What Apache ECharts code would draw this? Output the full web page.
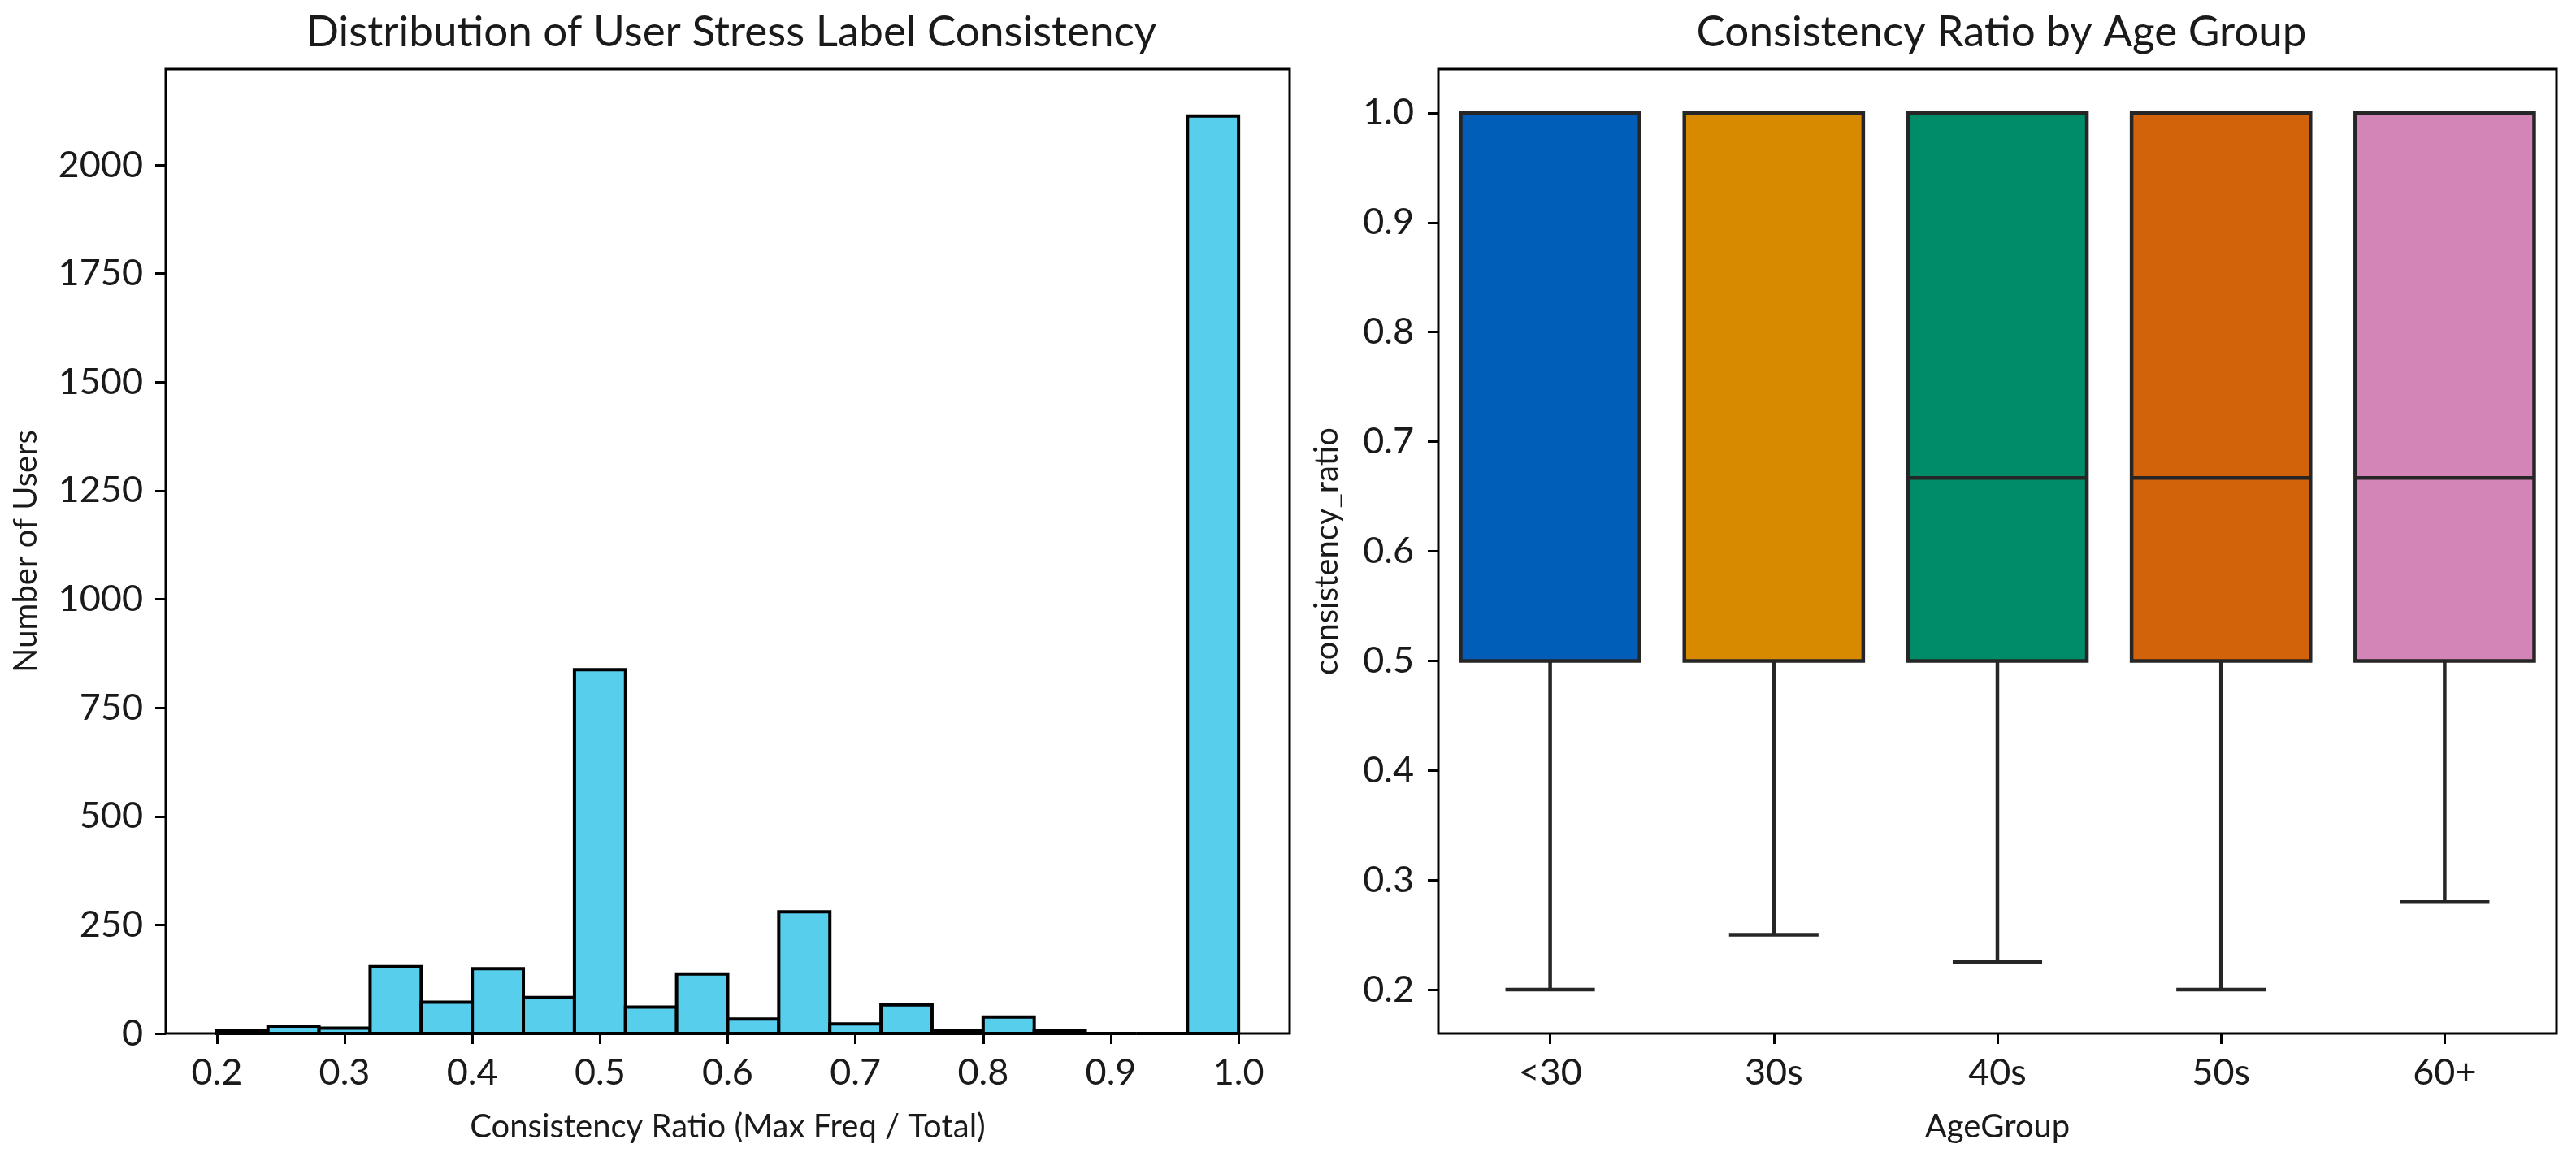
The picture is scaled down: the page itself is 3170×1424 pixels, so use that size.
<!DOCTYPE html>
<html>
<head>
<meta charset="utf-8">
<script src="https://cdn.jsdelivr.net/npm/echarts@6/dist/echarts.min.js"></script>
<style>
  html, body { margin: 0; padding: 0; background: #ffffff; }
  #chart { width: 3170px; height: 1424px; }
</style>
</head>
<body>
<div id="chart"></div>
<script>
// ---------- Data ----------
// Histogram: bin edges and user counts per bin
const binEdges = [0.20, 0.24, 0.28, 0.32, 0.36, 0.40, 0.44, 0.48, 0.52, 0.56, 0.60,
                  0.64, 0.68, 0.72, 0.76, 0.80, 0.84, 0.88, 0.92, 0.96, 1.00];
const userCounts = [7, 17, 12, 154, 72, 149, 83, 838, 61, 137, 33, 280, 22, 66, 6, 38, 6, 0, 0, 2113];
const histXTicks = [0.2, 0.3, 0.4, 0.5, 0.6, 0.7, 0.8, 0.9, 1.0];
const histYTicks = [0, 250, 500, 750, 1000, 1250, 1500, 1750, 2000];

// Box plot: consistency ratio by age group
const ageGroups   = ['<30', '30s', '40s', '50s', '60+'];
const whiskerLow  = [0.20, 0.25, 0.225, 0.20, 0.28];
const q1Values    = [0.50, 0.50, 0.50, 0.50, 0.50];
const medians     = [1.00, 1.00, 0.667, 0.667, 0.667];
const q3Values    = [1.00, 1.00, 1.00, 1.00, 1.00];
const whiskerHigh = [1.00, 1.00, 1.00, 1.00, 1.00];
const boxYTicks   = [0.2, 0.3, 0.4, 0.5, 0.6, 0.7, 0.8, 0.9, 1.0];

// ---------- Styles ----------
const FONT = 'Lato';
const TEXT = '#1a1a1a';
const histFill = '#57ceec';
const boxColors = ['#005eb8', '#d78a00', '#008c68', '#d3630b', '#d485b7'];
const TICK_FS = 45, NAME_FS = 40, TITLE_FS = 53;
const EDGE = '#262626';

const histData = userCounts.map((c, i) => [binEdges[i], binEdges[i + 1], c]);
const boxData = ageGroups.map((g, i) => [i, whiskerLow[i], q1Values[i], medians[i], q3Values[i], whiskerHigh[i]]);

const chart = echarts.init(document.getElementById('chart'), null, { renderer: 'canvas' });

const tickStyle = { color: '#000', width: 3 };
const axisCommon = {
  axisLine: { show: false },
  splitLine: { show: false }
};

const option = {
  backgroundColor: '#ffffff',
  animation: false,
  title: [
    { text: 'Distribution of User Stress Label Consistency', left: 895, top: 8, textAlign: 'center',
      textStyle: { fontFamily: FONT, fontSize: TITLE_FS, fontWeight: 'normal', color: TEXT } },
    { text: 'Consistency Ratio by Age Group', left: 2458, top: 8, textAlign: 'center',
      textStyle: { fontFamily: FONT, fontSize: TITLE_FS, fontWeight: 'normal', color: TEXT } }
  ],
  grid: [
    { left: 204, top: 85, width: 1383, height: 1187, show: true, borderColor: '#000', borderWidth: 3, backgroundColor: 'transparent' },
    { left: 1770, top: 85, width: 1376, height: 1187, show: true, borderColor: '#000', borderWidth: 3, backgroundColor: 'transparent' }
  ],
  xAxis: [
    Object.assign({}, axisCommon, {
      type: 'value', gridIndex: 0, min: 0.16, max: 1.04,
      name: 'Consistency Ratio (Max Freq / Total)', nameLocation: 'middle', nameGap: 95,
      nameTextStyle: { fontFamily: FONT, fontSize: NAME_FS, color: TEXT },
      axisTick: { show: true, length: 13, lineStyle: tickStyle, customValues: histXTicks },
      axisLabel: { customValues: histXTicks, formatter: v => v.toFixed(1), margin: 26,
                   fontFamily: FONT, fontSize: TICK_FS, color: TEXT }
    }),
    Object.assign({}, axisCommon, {
      type: 'category', gridIndex: 1, data: ageGroups,
      name: 'AgeGroup', nameLocation: 'middle', nameGap: 95,
      nameTextStyle: { fontFamily: FONT, fontSize: NAME_FS, color: TEXT },
      axisTick: { show: true, alignWithLabel: true, length: 13, lineStyle: tickStyle },
      axisLabel: { margin: 26, fontFamily: FONT, fontSize: TICK_FS, color: TEXT }
    })
  ],
  yAxis: [
    Object.assign({}, axisCommon, {
      type: 'value', gridIndex: 0, min: 0, max: 2221,
      name: 'Number of Users', nameLocation: 'middle', nameGap: 152,
      nameTextStyle: { fontFamily: FONT, fontSize: NAME_FS, color: TEXT },
      axisTick: { show: true, length: 13, lineStyle: tickStyle, customValues: histYTicks },
      axisLabel: { customValues: histYTicks, formatter: v => String(v), margin: 28,
                   fontFamily: FONT, fontSize: TICK_FS, color: TEXT }
    }),
    Object.assign({}, axisCommon, {
      type: 'value', gridIndex: 1, min: 0.16, max: 1.04,
      name: 'consistency_ratio', nameLocation: 'middle', nameGap: 117,
      nameTextStyle: { fontFamily: FONT, fontSize: NAME_FS, color: TEXT },
      axisTick: { show: true, length: 13, lineStyle: tickStyle, customValues: boxYTicks },
      axisLabel: { customValues: boxYTicks, formatter: v => v.toFixed(1), margin: 30,
                   fontFamily: FONT, fontSize: TICK_FS, color: TEXT }
    })
  ],
  series: [
    {
      type: 'custom', xAxisIndex: 0, yAxisIndex: 0, data: histData,
      encode: { x: [0, 1], y: 2 },
      renderItem: (params, api) => {
        const p0 = api.coord([api.value(0), api.value(2)]);
        const p1 = api.coord([api.value(1), 0]);
        return {
          type: 'rect',
          shape: { x: p0[0], y: p0[1], width: p1[0] - p0[0], height: p1[1] - p0[1] },
          style: { fill: histFill, stroke: '#000', lineWidth: 4 }
        };
      }
    },
    {
      type: 'custom', xAxisIndex: 1, yAxisIndex: 1, data: boxData,
      encode: { x: 0, y: [1, 2, 3, 4, 5] },
      renderItem: (params, api) => {
        const idx = api.value(0);
        const band = api.size([1, 0])[0];
        const bw = band * 0.8, cw = bw * 0.5;
        const c = v => api.coord([idx, v]);
        const pLow = c(api.value(1)), pQ1 = c(api.value(2)), pMed = c(api.value(3)),
              pQ3 = c(api.value(4)), pHigh = c(api.value(5));
        const cx = pQ1[0];
        const ls = { stroke: EDGE, lineWidth: 4.5 };
        return {
          type: 'group',
          children: [
            { type: 'line', shape: { x1: cx, y1: pQ1[1], x2: cx, y2: pLow[1] }, style: ls },
            { type: 'line', shape: { x1: cx, y1: pQ3[1], x2: cx, y2: pHigh[1] }, style: ls },
            { type: 'line', shape: { x1: cx - cw / 2, y1: pLow[1], x2: cx + cw / 2, y2: pLow[1] }, style: ls },
            { type: 'line', shape: { x1: cx - cw / 2, y1: pHigh[1], x2: cx + cw / 2, y2: pHigh[1] }, style: ls },
            { type: 'rect', shape: { x: cx - bw / 2, y: pQ3[1], width: bw, height: pQ1[1] - pQ3[1] },
              style: { fill: boxColors[idx], stroke: EDGE, lineWidth: 4.5 } },
            { type: 'line', shape: { x1: cx - bw / 2, y1: pMed[1], x2: cx + bw / 2, y2: pMed[1] }, style: ls }
          ]
        };
      }
    }
  ]
};
chart.setOption(option);
</script>
</body>
</html>
